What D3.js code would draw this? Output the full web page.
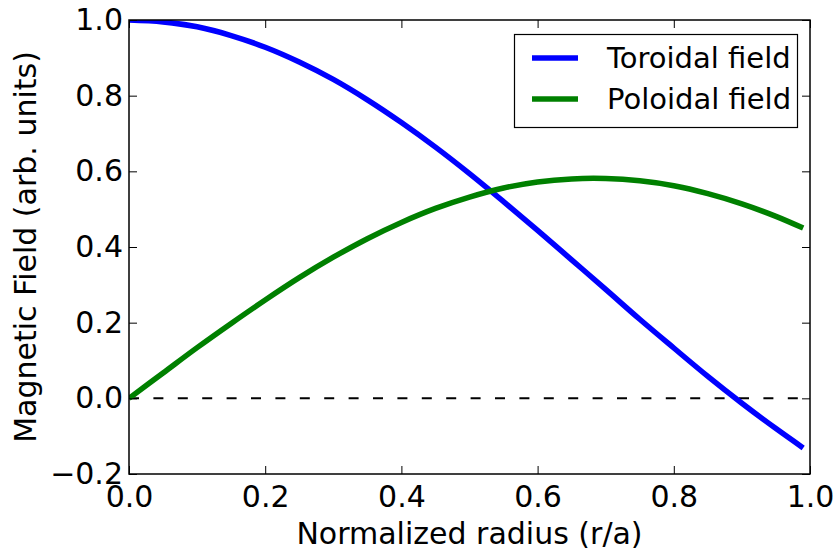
<!DOCTYPE html>
<html>
<head>
<meta charset="utf-8">
<script src="https://cdn.jsdelivr.net/npm/d3@7"></script>
<style>
  html, body { margin: 0; padding: 0; background: #fff; }
  svg { display: block; font-family: "DejaVu Sans", sans-serif; }
</style>
</head>
<body>
<svg id="chart" width="840" height="550"></svg>
<script>
// Normalized radius samples
const radius = [0, 0.05, 0.10, 0.15, 0.20, 0.25, 0.30, 0.35, 0.40, 0.45, 0.50,
                0.55, 0.60, 0.65, 0.70, 0.75, 0.80, 0.85, 0.90, 0.95, 0.99];
// Toroidal field profile
const toroidal = [1.000, 0.995, 0.982, 0.959, 0.928, 0.889, 0.843, 0.789, 0.729, 0.664, 0.594,
                  0.520, 0.444, 0.366, 0.288, 0.209, 0.133, 0.058, -0.013, -0.080, -0.131];
// Poloidal field profile
const poloidal = [0.000, 0.067, 0.134, 0.198, 0.260, 0.319, 0.373, 0.422, 0.465, 0.502, 0.532,
                  0.556, 0.572, 0.580, 0.581, 0.575, 0.562, 0.541, 0.514, 0.481, 0.450];
const seriesNames = ["Toroidal field", "Poloidal field"];
const xTicks = [0.0, 0.2, 0.4, 0.6, 0.8, 1.0];
const yTicks = [-0.2, 0.0, 0.2, 0.4, 0.6, 0.8, 1.0];

const plot = { left: 129, right: 810, top: 20, bottom: 474 };
const svg = d3.select("#chart");

const x = d3.scaleLinear().domain([0, 1]).range([plot.left, plot.right]);
const y = d3.scaleLinear().domain([-0.2, 1.0]).range([plot.bottom, plot.top]);

const fmt = v => d3.format(".1f")(v).replace("-", "\u2212");
const fontSize = 30;
const legendFontSize = 29;

svg.append("defs").append("clipPath").attr("id", "clip")
  .append("rect")
  .attr("x", plot.left).attr("y", plot.top)
  .attr("width", plot.right - plot.left).attr("height", plot.bottom - plot.top);

// Zero reference line
svg.append("line")
  .attr("x1", x(0)).attr("x2", x(1))
  .attr("y1", y(0)).attr("y2", y(0))
  .attr("stroke", "#000").attr("stroke-width", 2)
  .attr("stroke-dasharray", "10,14.4");

// Field curves
const colors = ["#0000ff", "#008000"];
const series = [toroidal, poloidal];
const line = d3.line()
  .x(d => x(d[0])).y(d => y(d[1]))
  .curve(d3.curveCatmullRom);

const curves = svg.append("g").attr("clip-path", "url(#clip)");
series.forEach((vals, i) => {
  curves.append("path")
    .datum(radius.map((r, j) => [r, vals[j]]))
    .attr("d", line)
    .attr("fill", "none")
    .attr("stroke", colors[i])
    .attr("stroke-width", 5.5);
});

// Axes: ticks point inward on all four sides
const tickLen = 8;
const axisStyle = g => {
  g.select(".domain").remove();
  g.selectAll(".tick line").attr("stroke", "#000").attr("stroke-width", 1);
  g.selectAll(".tick text").attr("font-size", fontSize).attr("fill", "#000")
    .attr("font-family", "DejaVu Sans, sans-serif");
};

svg.append("g")
  .attr("transform", `translate(0,${plot.bottom})`)
  .call(d3.axisBottom(x).tickValues(xTicks).tickFormat(fmt).tickSizeInner(-tickLen).tickSizeOuter(0).tickPadding(12))
  .call(axisStyle);
svg.append("g")
  .attr("transform", `translate(0,${plot.top})`)
  .call(d3.axisTop(x).tickValues(xTicks).tickFormat("").tickSizeInner(-tickLen).tickSizeOuter(0))
  .call(axisStyle);
svg.append("g")
  .attr("transform", `translate(${plot.left},0)`)
  .call(d3.axisLeft(y).tickValues(yTicks).tickFormat(fmt).tickSizeInner(-tickLen).tickSizeOuter(0).tickPadding(6))
  .call(axisStyle);
svg.append("g")
  .attr("transform", `translate(${plot.right},0)`)
  .call(d3.axisRight(y).tickValues(yTicks).tickFormat("").tickSizeInner(-tickLen).tickSizeOuter(0))
  .call(axisStyle);

// Frame
svg.append("rect")
  .attr("x", plot.left).attr("y", plot.top)
  .attr("width", plot.right - plot.left).attr("height", plot.bottom - plot.top)
  .attr("fill", "none").attr("stroke", "#000").attr("stroke-width", 1.5);

// Axis titles
svg.append("text")
  .attr("x", (plot.left + plot.right) / 2).attr("y", 544)
  .attr("text-anchor", "middle").attr("font-size", fontSize)
  .text("Normalized radius (r/a)");
svg.append("text")
  .attr("transform", `translate(36,${(plot.top + plot.bottom) / 2}) rotate(-90)`)
  .attr("text-anchor", "middle").attr("font-size", fontSize)
  .text("Magnetic Field (arb. units)");

// Legend
const legend = svg.append("g");
legend.append("rect")
  .attr("x", 514.5).attr("y", 34.5).attr("width", 283).attr("height", 93)
  .attr("fill", "#fff").attr("stroke", "#000").attr("stroke-width", 1.2);
seriesNames.forEach((name, i) => {
  const cy = 58 + i * 41;
  legend.append("line")
    .attr("x1", 532).attr("x2", 578).attr("y1", cy).attr("y2", cy)
    .attr("stroke", colors[i]).attr("stroke-width", 5.5);
  legend.append("text")
    .attr("x", 607).attr("y", cy + 10)
    .attr("font-size", legendFontSize)
    .text(name);
});
</script>
</body>
</html>
